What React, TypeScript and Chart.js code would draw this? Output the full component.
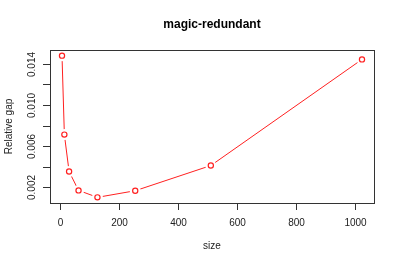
import React, { useEffect, useRef } from "react";
import { Chart, registerables } from "chart.js";

Chart.register(...registerables);

const sizes = [8, 16, 32, 64, 128, 256, 512, 1024];
const gaps = [0.01477, 0.00712, 0.00354, 0.00171, 0.00104, 0.00168, 0.00412, 0.01441];
const xTicks = [0, 200, 400, 600, 800, 1000];
const yTicks = [0.002, 0.004, 0.006, 0.008, 0.01, 0.012, 0.014];
const yTickLabels = ["0.002", "", "0.006", "", "0.010", "", "0.014"];
const title = "magic-redundant";
const xTitle = "size";
const yTitle = "Relative gap";

const FONT = "'Liberation Sans', Arial, Helvetica, sans-serif";

export default function App() {
  const ref = useRef<HTMLCanvasElement | null>(null);
  useEffect(() => {
    if (!ref.current) return;
    const xmin = Math.min(...sizes), xmax = Math.max(...sizes);
    const ymin = Math.min(...gaps), ymax = Math.max(...gaps);
    const xp = (xmax - xmin) * 0.04, yp = (ymax - ymin) * 0.04;
    const pts = sizes.map((s, i) => ({ x: s, y: gaps[i] }));
    const rAxes = {
      id: "rAxes",
      afterDraw(chart: any) {
        const ctx = chart.ctx as CanvasRenderingContext2D;
        const a = chart.chartArea;
        const xs = chart.scales.x, ys = chart.scales.y;
        ctx.save();
        ctx.strokeStyle = "#333";
        ctx.lineWidth = 1;
        ctx.strokeRect(Math.round(a.left) + 0.5, Math.round(a.top) + 0.5, Math.round(a.right - a.left), Math.round(a.bottom - a.top));
        ctx.fillStyle = "#222";
        ctx.font = `10px ${FONT}`;
        ctx.textAlign = "center";
        ctx.textBaseline = "middle";
        xTicks.forEach((t) => {
          const px = Math.round(xs.getPixelForValue(t)) + 0.5;
          ctx.beginPath();
          ctx.moveTo(px, a.bottom);
          ctx.lineTo(px, a.bottom + 7);
          ctx.stroke();
          ctx.fillText(String(t), px, a.bottom + 20);
        });
        yTicks.forEach((t, i) => {
          const py = Math.round(ys.getPixelForValue(t)) + 0.5;
          ctx.beginPath();
          ctx.moveTo(a.left, py);
          ctx.lineTo(a.left - 7, py);
          ctx.stroke();
          if (yTickLabels[i]) {
            ctx.save();
            ctx.translate(a.left - 18, py);
            ctx.rotate(-Math.PI / 2);
            ctx.fillText(yTickLabels[i], 0, 0);
            ctx.restore();
          }
        });
        ctx.fillText(xTitle, (a.left + a.right) / 2, 246);
        ctx.save();
        ctx.translate(9, (a.top + a.bottom) / 2);
        ctx.rotate(-Math.PI / 2);
        ctx.fillText(yTitle, 0, 0);
        ctx.restore();
        ctx.fillStyle = "#000";
        ctx.font = `bold 12px ${FONT}`;
        ctx.fillText(title, (a.left + a.right) / 2, 25);
        ctx.restore();
      },
    };
    const chart = new Chart(ref.current, {
      type: "scatter",
      data: {
        datasets: [
          {
            data: pts,
            showLine: true,
            borderColor: "#ff2020",
            borderWidth: 1,
            pointRadius: 5.5,
            pointBackgroundColor: "#ffffff",
            pointBorderWidth: 0,
            pointBorderColor: "rgba(0,0,0,0)",
            order: 2,
          },
          {
            data: pts,
            showLine: false,
            pointRadius: 2.6,
            pointBackgroundColor: "rgba(0,0,0,0)",
            pointBorderColor: "#ff2020",
            pointBorderWidth: 1.2,
            order: 1,
          },
        ],
      },
      options: {
        animation: false,
        responsive: true,
        maintainAspectRatio: false,
        layout: { padding: { left: 50, right: 25, top: 50, bottom: 63 } },
        plugins: { legend: { display: false }, tooltip: { enabled: false } },
        scales: {
          x: { type: "linear", display: false, min: xmin - xp, max: xmax + xp },
          y: { type: "linear", display: false, min: ymin - yp, max: ymax + yp },
        },
      },
      plugins: [rAxes],
    });
    return () => chart.destroy();
  }, []);
  return (
    <div style={{ position: "absolute", left: 0, top: 0, width: 399, height: 266, background: "#fff" }}>
      <canvas ref={ref} />
    </div>
  );
}
